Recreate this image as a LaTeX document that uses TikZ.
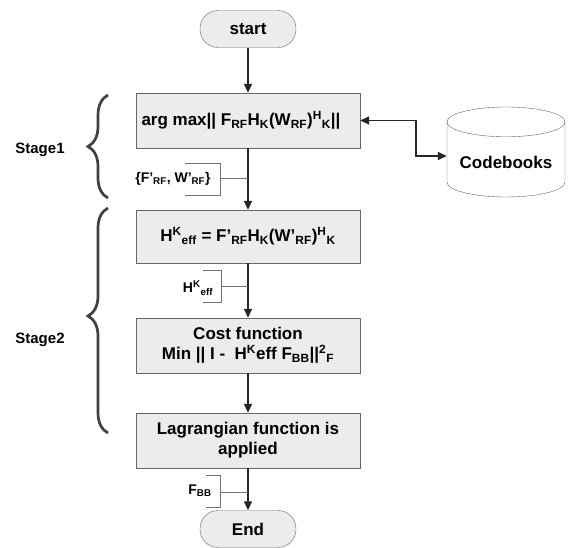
\documentclass[tikz,border=0pt]{standalone}
\usepackage{fontspec}
\setmainfont{Liberation Sans}
\usetikzlibrary{arrows.meta,shapes.geometric,decorations.pathreplacing}
\newcommand{\lo}[1]{\textsubscript{#1}}
\newcommand{\hi}[1]{\textsuperscript{#1}}

\begin{document}
\begin{tikzpicture}[x=1pt,y=-1pt,font=\bfseries\fontsize{17}{20}\selectfont,
	box/.style={draw=gray!80!black,fill=gray!15,minimum width=224pt,minimum height=55pt,align=center,inner sep=2pt},
	term/.style={draw=gray!80!black,fill=gray!15,rounded corners=18pt,minimum width=96pt,minimum height=37pt},
	flow/.style={-{Triangle[length=9pt,width=8pt]},line width=1.5pt,draw=black!85},
	tag/.style={font=\bfseries\fontsize{14}{16}\selectfont},
	brk/.style={draw=gray!90!black,line width=0.8pt},
	stagebrace/.style={draw=black!75,line width=2.7pt,decorate,decoration={brace,amplitude=20pt}}]
	\useasboundingbox (0,0) rectangle (568,547);
	\node[term] (start) at (248,29) {start};
	\node[box] (argmax) at (248,120.5) {arg max|| F\lo{RF}H\lo{K}(W\lo{RF})\hi{H}\lo{K}||\hspace{14pt}};
	\node[box,minimum height=53pt] (heff) at (248,236.5) {H\hi{K}\lo{eff} = F'\lo{RF}H\lo{K}(W'\lo{RF})\hi{H}\lo{K}};
	\node[box] (cost) at (248,345.5) {Cost function\\Min || I -\ \ H\hi{K}eff F\lo{BB}||\hi{2}\lo{F}};
	\node[box] (lagr) at (248,440.5) {Lagrangian function is\\applied};
	\node[term] (end) at (248,529) {End};
	\node[cylinder,shape border rotate=90,aspect=0.3,draw=gray!80!black,fill=white,minimum width=118pt,minimum height=90pt] (cb) at (506,162) {Codebooks};

	\draw[flow] (start) -- (argmax);
	\draw[flow] (argmax) -- (heff);
	\draw[flow] (heff) -- (cost);
	\draw[flow] (cost) -- (lagr);
	\draw[flow] (lagr) -- (end);
	\draw[flow,{Triangle[length=9pt,width=8pt]}-{Triangle[length=9pt,width=8pt]}] (argmax.east) -- ++(56,0) |- ([yshift=6pt]cb.west);

	\node[tag] (fw) at (173,179) {\{F'\lo{RF}, W'\lo{RF}\}};
	\draw[brk] (185,163) -- (220,163) -- (220,195) -- (185,195) (220,178) -- (248,178);
	\node[tag] (hk) at (198,288) {H\hi{K}\lo{eff}};
	\draw[brk] (203,270) -- (221,270) -- (221,302) -- (203,302) (221,286) -- (248,286);
	\node[tag] (fbb) at (200,491) {F\lo{BB}};
	\draw[brk] (206,475) -- (220,475) -- (220,507) -- (206,507) (220,492) -- (248,492);

	\draw[stagebrace] (108,198) -- (108,95);
	\draw[stagebrace,decoration={aspect=0.52}] (108,433) -- (108,208);
	\node[tag,font=\bfseries\fontsize{15}{18}\selectfont] (s1) at (40,150) {Stage1};
	\node[tag,font=\bfseries\fontsize{15}{18}\selectfont] (s2) at (40,340) {Stage2};
\end{tikzpicture}
\end{document}
